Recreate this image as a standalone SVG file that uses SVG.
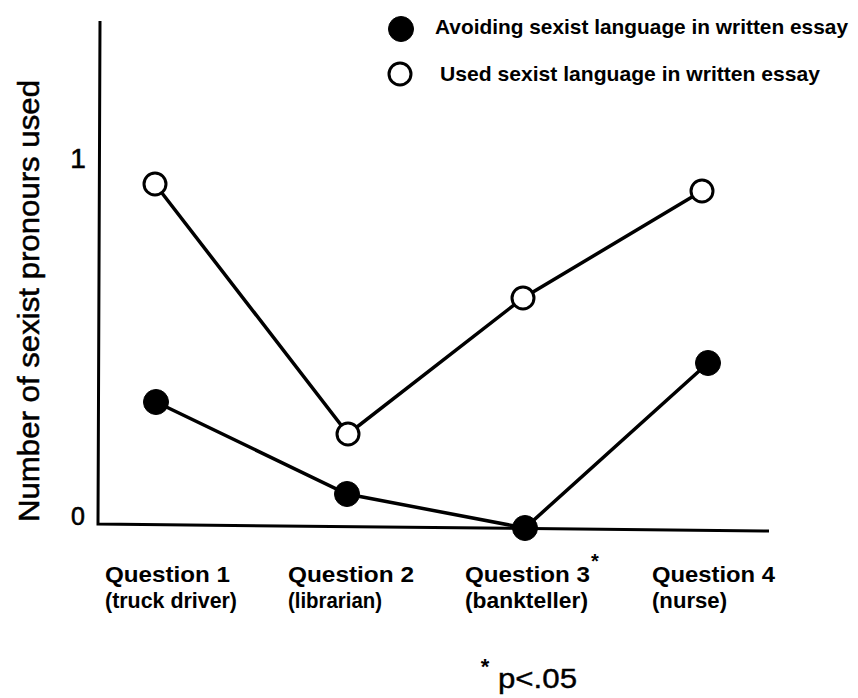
<svg xmlns="http://www.w3.org/2000/svg" width="858" height="698" viewBox="0 0 858 698">
<style>
text{font-family:"Liberation Sans",Arial,sans-serif;fill:#000}
.lbl{font-weight:bold;font-size:22px}
.leg{font-weight:bold;font-size:21px}
.axis{stroke:#000;stroke-width:3;fill:none}
.line{stroke:#000;stroke-width:3.5;fill:none}
.open{fill:#fff;stroke:#000;stroke-width:3}
.fill{fill:#000;stroke:#000;stroke-width:1}
</style>
<rect width="858" height="698" fill="#fff"/>
<g id="axes">
<polyline class="axis" points="100,21 98,524 769,531"/>
<text x="78" y="168" font-size="28" text-anchor="middle" stroke="#000" stroke-width="0.6">1</text>
<text x="78" y="525" font-size="25" text-anchor="middle" stroke="#000" stroke-width="0.6">0</text>
<text transform="translate(39,301) rotate(-90)" font-size="30" text-anchor="middle" stroke="#000" stroke-width="0.5" textLength="442" lengthAdjust="spacingAndGlyphs">Number of sexist pronours used</text>
</g>
<g id="connectors">
<polyline class="line" points="155,184 348,434 523,298 702,191"/>
<polyline class="line" points="156,402 347,494 525,528 708,363"/>
</g>
<g id="used-q1"><circle class="open" cx="155" cy="184" r="11"/></g>
<g id="used-q2"><circle class="open" cx="348" cy="434" r="11"/></g>
<g id="used-q3"><circle class="open" cx="523" cy="298" r="11"/></g>
<g id="used-q4"><circle class="open" cx="702" cy="191" r="11"/></g>
<g id="avoid-q1"><circle class="fill" cx="156" cy="402" r="12.5"/></g>
<g id="avoid-q2"><circle class="fill" cx="347" cy="494" r="12.5"/></g>
<g id="avoid-q3"><circle class="fill" cx="525" cy="528" r="12.5"/></g>
<g id="avoid-q4"><circle class="fill" cx="708" cy="363" r="12.5"/></g>
<g id="legend">
<circle class="fill" cx="401" cy="29" r="12.5"/>
<text class="leg" x="435" y="34" textLength="413" lengthAdjust="spacingAndGlyphs">Avoiding sexist language in written essay</text>
<circle class="open" cx="400" cy="74" r="11"/>
<text class="leg" x="440" y="81" textLength="380" lengthAdjust="spacingAndGlyphs">Used sexist language in written essay</text>
</g>
<g id="xlabels">
<text class="lbl" x="105" y="582" textLength="125" lengthAdjust="spacingAndGlyphs">Question 1</text>
<text class="lbl" x="105" y="608" textLength="132" lengthAdjust="spacingAndGlyphs">(truck driver)</text>
<text class="lbl" x="288" y="582" textLength="126" lengthAdjust="spacingAndGlyphs">Question 2</text>
<text class="lbl" x="288" y="608" textLength="94" lengthAdjust="spacingAndGlyphs">(librarian)</text>
<text class="lbl" x="465" y="582" textLength="125" lengthAdjust="spacingAndGlyphs">Question 3</text>
<text x="595" y="568" font-size="20" font-weight="bold" text-anchor="middle">*</text>
<text class="lbl" x="465" y="608" textLength="123" lengthAdjust="spacingAndGlyphs">(bankteller)</text>
<text class="lbl" x="652" y="582" textLength="123" lengthAdjust="spacingAndGlyphs">Question 4</text>
<text class="lbl" x="652" y="608" textLength="75" lengthAdjust="spacingAndGlyphs">(nurse)</text>
</g>
<g id="footnote">
<text x="485" y="674" font-size="22" font-weight="bold" text-anchor="middle">*</text>
<text x="498" y="688" font-size="27" stroke="#000" stroke-width="0.4" textLength="79" lengthAdjust="spacingAndGlyphs">p&lt;.05</text>
</g>
</svg>
